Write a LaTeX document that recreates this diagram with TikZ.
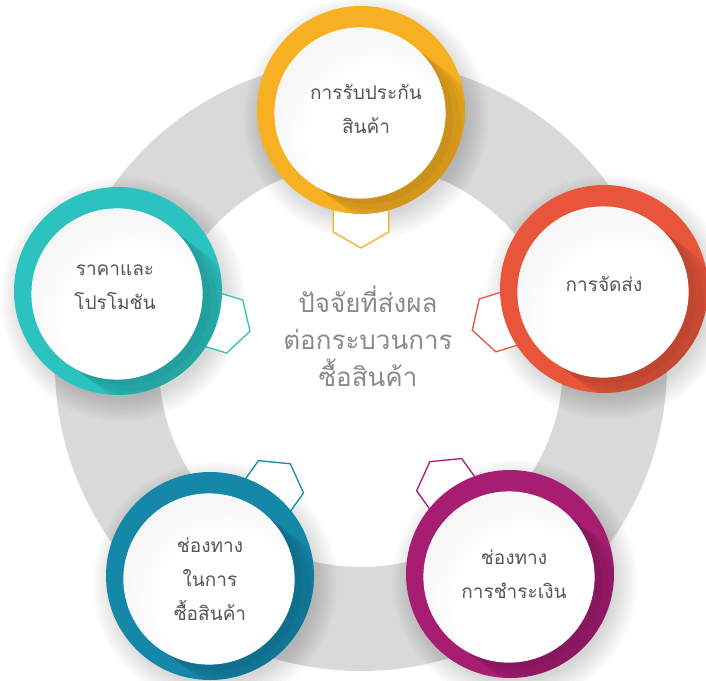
\documentclass[tikz,border=0pt]{standalone}
\usepackage{fontspec}
\newfontfamily\thaifont[Script=Thai]{Loma}
\usetikzlibrary{calc}

\definecolor{ringgray}{HTML}{D9D9D9}
\definecolor{cyellow}{HTML}{F7B022}
\definecolor{corange}{HTML}{E9553A}
\definecolor{cteal}{HTML}{2CC2C0}
\definecolor{cblue}{HTML}{1588AA}
\definecolor{cpurple}{HTML}{A71D72}
\definecolor{labelgray}{HTML}{555555}
\definecolor{titlegray}{HTML}{8A8A8A}

% white face of each bubble: bright towards the lower right, grey rim
\pgfdeclareradialshading{wdisc}{\pgfpoint{8bp}{-11bp}}{%
  rgb(0bp)=(1,1,1); rgb(20bp)=(1,1,1); rgb(40bp)=(0.94,0.94,0.94);
  rgb(52bp)=(0.88,0.88,0.88); rgb(64bp)=(0.86,0.86,0.86)}

\tikzset{
  disc/.style={circle, inner sep=0pt, minimum size=208pt},
  tabline/.style={fill=white, line width=1.3pt, line join=miter},
  caption/.style={text=labelgray, font=\thaifont\fontsize{19}{34}\selectfont,
    align=center, inner sep=0pt},
  hubtext/.style={text=titlegray, font=\thaifont\fontsize{26}{37}\selectfont,
    align=center, inner sep=0pt},
}

% #1 name, #2 colour, #3,#4 centre
\newcommand\bubble[4]{%
  \coordinate (#1-c) at (#3,#4);
  \coordinate (#1-w) at ($(#1-c)+(-1,3)$);
  % soft drop shadow
  \foreach \k in {0,...,9}
    \fill[black, opacity=0.014] ($(#1-c)+(5,8)$) circle ({100+\k*2.5});
  % hexagonal tab pointing at the hub
  \coordinate (#1-h) at ($(#1-c)!106pt!(hub)$);
  \draw[tabline, draw=#2] let \p1=($(hub)-(#1-c)$), \n1={atan2(\y1,\x1)} in
    ($(#1-h)+(\n1:32pt)$) -- ($(#1-h)+(\n1+60:32pt)$) --
    ($(#1-h)+(\n1+120:32pt)$) -- ($(#1-h)+(\n1+180:32pt)$) --
    ($(#1-h)+(\n1+240:32pt)$) -- ($(#1-h)+(\n1+300:32pt)$) -- cycle;
  % coloured disc
  \node[disc, fill=#2] (#1) at (#1-c) {};
  % soft long shadow of the white face on the coloured disc
  \begin{scope}
    \clip (#1-c) circle (104);
    \foreach \k in {1,...,5}
      \draw[black, opacity=0.035, line width=170pt, line cap=round]
        (#1-w) -- ++({\k*8},{\k*6});
  \end{scope}
  % white face
  \shade[shading=wdisc] (#1-w) circle (85);
  \draw[white, line width=1.2pt] (#1-w) circle (85);
}

\begin{document}
\begin{tikzpicture}[x=1pt, y=-1pt]
  \useasboundingbox (0,0) rectangle (706,680);
  \fill[white] (0,0) rectangle (706,680);
  \coordinate (hub) at (361,365);

  % grey ring
  \fill[ringgray, even odd rule] (hub) circle (306) (hub) circle (202);

  \bubble{warranty}{cyellow}{361}{110}
  \bubble{delivery}{corange}{604}{289}
  \bubble{price}{cteal}{118}{291}
  \bubble{channel}{cblue}{210}{576}
  \bubble{payment}{cpurple}{510}{574}

  \node[caption] (warranty-t) at (366,109) {การรับประกัน\\สินค้า};
  \node[caption] (delivery-t) at (604,284) {การจัดส่ง};
  \node[caption] (price-t) at (115,287) {ราคาและ\\โปรโมชัน};
  \node[caption] (channel-t) at (210,579) {ช่องทาง\\ในการ\\ซื้อสินค้า};
  \node[caption] (payment-t) at (514,574) {ช่องทาง\\การชำระเงิน};

  \node[hubtext] (title) at (368,336) {ปัจจัยที่ส่งผล\\ต่อกระบวนการ\\ซื้อสินค้า};
\end{tikzpicture}
\end{document}
